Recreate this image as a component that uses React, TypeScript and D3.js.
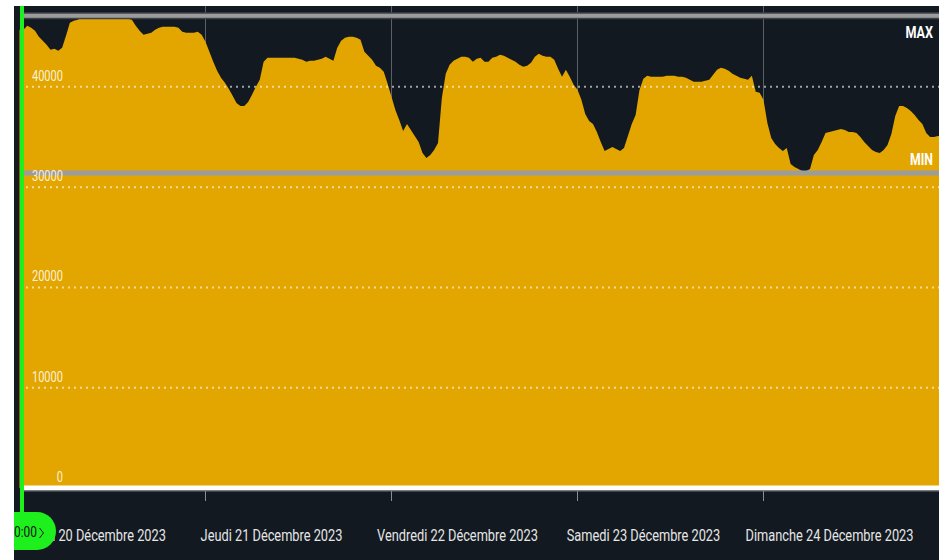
import React from "react";
import * as d3 from "d3";

// ---- DATA ----
const startTime = new Date(2023, 11, 20, 0, 0);
const stepMinutes = 30;
// half-hourly consumption (MW) from Wed 20 Dec 2023 00:00
const load = [
  45700, 45700, 46100, 45900, 45600, 45000, 44600, 44200, 43700, 43800,
  43600, 43900, 45100, 46400, 46600, 46700, 46900, 47000, 47000, 47000,
  47000, 47000, 47000, 47000, 47000, 47000, 46900, 46800, 46800, 46700,
  46100, 45600, 45200, 45300, 45400, 45700, 45900, 46000, 46000, 46000,
  46000, 45900, 45500, 45400, 45400, 45400, 45500, 45200, 44500, 43500,
  42500, 41600, 40900, 40400, 39800, 39100, 38400, 38100, 38100, 38500,
  39200, 40000, 40700, 42500, 42900, 42900, 42900, 42900, 42900, 42900,
  42900, 42900, 42800, 42700, 42500, 42600, 42600, 42700, 42800, 43000,
  42800, 42600, 43900, 44600, 44900, 45000, 45000, 44900, 44700, 43500,
  43100, 42700, 42100, 41900, 41500, 40300, 39000, 37700, 36700, 35600,
  36300, 35700, 35100, 34500, 33400, 32900, 33200, 33700, 34400, 38900,
  41300, 42200, 42600, 42800, 43000, 43000, 42900, 42500, 42800, 42900,
  42500, 42500, 42900, 43000, 43200, 43100, 42900, 42700, 42500, 42200,
  42000, 42100, 42400, 43000, 43300, 43100, 43000, 43000, 42700, 41800,
  41000, 41700, 41000, 40200, 39700, 38700, 37300, 36600, 36300, 35500,
  34500, 33600, 33800, 34000, 33800, 33600, 33900, 35100, 36300, 37200,
  39700, 40800, 41100, 41000, 41000, 41000, 41000, 41100, 41100, 41100,
  41000, 41000, 40900, 40700, 40500, 40500, 40500, 40600, 40700, 41200,
  41700, 41900, 41800, 41600, 41300, 41100, 40900, 40800, 40700, 41100,
  39500, 39400, 38700, 36400, 34900, 34300, 33900, 33600, 33900, 32300,
  32000, 31800, 31600, 31600, 31800, 33200, 33700, 34500, 35400, 35500,
  35600, 35700, 35800, 35700, 35500, 35500, 35400, 35000, 34500, 34100,
  33700, 33500, 33400, 33700, 34200, 35300, 37100, 38100, 38100, 37900,
  37600, 37200, 36700, 36300, 35400, 35000, 35000, 35100, 35100,
];
const maxValue = 47100;
const minValue = 31400;
const yTicks = [0, 10000, 20000, 30000, 40000];
const dayLabels = [
  "Mercredi 20 Décembre 2023",
  "Jeudi 21 Décembre 2023",
  "Vendredi 22 Décembre 2023",
  "Samedi 23 Décembre 2023",
  "Dimanche 24 Décembre 2023",
];
const cursorLabel = "00:00";

// ---- STYLE ----
const W = 939;
const H = 560;
const BG = "#121920";
const AREA = "#e3a600";
const GREEN = "#1ef01e";
const FONT = "Roboto, 'Noto Sans', sans-serif";

export default function App() {
  const left = 14;
  const top = 6;
  const plotLeft = 24;
  const baseY = 488;

  const x = d3
    .scaleTime()
    .domain([startTime, d3.timeDay.offset(startTime, 5)])
    .range([19.5, 949.5]);
  const y = d3.scaleLinear().domain([0, 48000]).range([baseY, 6.6]);

  const points = load.map((v, i) => ({
    t: d3.timeMinute.offset(startTime, i * stepMinutes),
    v,
  }));
  const area = d3
    .area<{ t: Date; v: number }>()
    .x((d) => x(d.t))
    .y0(baseY)
    .y1((d) => y(d.v))
    .curve(d3.curveLinear);

  const days = dayLabels.map((label, i) => ({
    label,
    t: d3.timeDay.offset(startTime, i),
  }));

  return (
    <svg
      width={W}
      height={H}
      style={{ position: "absolute", left: 0, top: 0, display: "block" }}
      fontFamily={FONT}
    >
      <defs>
        <clipPath id="chartClip">
          <rect x={left} y={top} width={W - left} height={H - top} />
        </clipPath>
      </defs>
      <rect x={0} y={0} width={W} height={H} fill="#ffffff" />
      <g clipPath="url(#chartClip)">
        <rect x={left} y={top} width={W - left} height={H - top} fill={BG} />

        {/* vertical day gridlines */}
        {days.slice(1).map((d) => (
          <g key={d.label}>
            <line
              x1={x(d.t)}
              x2={x(d.t)}
              y1={top}
              y2={baseY}
              stroke="#5a6066"
              strokeWidth={1}
            />
            <line
              x1={x(d.t)}
              x2={x(d.t)}
              y1={491}
              y2={501}
              stroke="#8a8f94"
              strokeWidth={1}
            />
          </g>
        ))}

        {/* area */}
        <path d={area(points) || ""} fill={AREA} />

        {/* dotted horizontal gridlines */}
        {yTicks
          .filter((t) => t > 0)
          .map((t) => (
            <line
              key={t}
              x1={plotLeft + 2}
              x2={W}
              y1={y(t)}
              y2={y(t)}
              stroke="rgba(255,255,255,0.6)"
              strokeWidth={2}
              strokeDasharray="2 4"
            />
          ))}

        {/* zero line */}
        <line x1={plotLeft} x2={W} y1={baseY} y2={baseY} stroke="#ffffff" strokeWidth={5} />
        <line x1={plotLeft} x2={W} y1={491} y2={491} stroke="#6a7076" strokeWidth={1} />

        {/* MAX / MIN lines */}
        <line x1={plotLeft} x2={W} y1={y(maxValue)} y2={y(maxValue)} stroke="#3d4348" strokeWidth={7} />
        <line x1={plotLeft} x2={W} y1={y(maxValue)} y2={y(maxValue)} stroke="#9c9c9c" strokeWidth={4} />
        <line x1={plotLeft} x2={W} y1={y(minValue)} y2={y(minValue)} stroke="#9c9c9c" strokeWidth={5} />

        <text
          transform={`translate(933,${y(maxValue) + 22.5}) scale(0.74,1)`}
          textAnchor="end"
          fill="#ffffff"
          fontSize={17}
          fontWeight={700}
        >
          MAX
        </text>
        <text
          transform={`translate(933,${y(minValue) - 8}) scale(0.72,1)`}
          textAnchor="end"
          fill="#ffffff"
          fontSize={17}
          fontWeight={700}
        >
          MIN
        </text>

        {/* y tick labels */}
        {yTicks.map((t) => (
          <text
            key={t}
            transform={`translate(63,${y(t) - 6}) scale(0.79,1)`}
            textAnchor="end"
            fill="rgba(255,250,235,0.92)"
            fontSize={14}
          >
            {t}
          </text>
        ))}

        {/* x labels */}
        {days.map((d) => (
          <text
            key={d.label}
            transform={`translate(${x(d.t) + 66},541) scale(0.8,1)`}
            textAnchor="middle"
            fill="#e6e6e6"
            fontSize={16}
          >
            {d.label}
          </text>
        ))}

        {/* cursor line + badge */}
        <rect x={20} y={top} width={4} height={512 - top} fill={GREEN} />
        <rect x={-20} y={512} width={76} height={38} rx={19} ry={19} fill={GREEN} />
        <text
          transform="translate(37,537) scale(0.85,1)"
          textAnchor="end"
          fill="#111111"
          fontSize={14}
        >
          {cursorLabel}
        </text>
        <path d="M39.5,528 L43.5,533 L39.5,538" fill="none" stroke="#111111" strokeWidth={1} />
      </g>
    </svg>
  );
}
